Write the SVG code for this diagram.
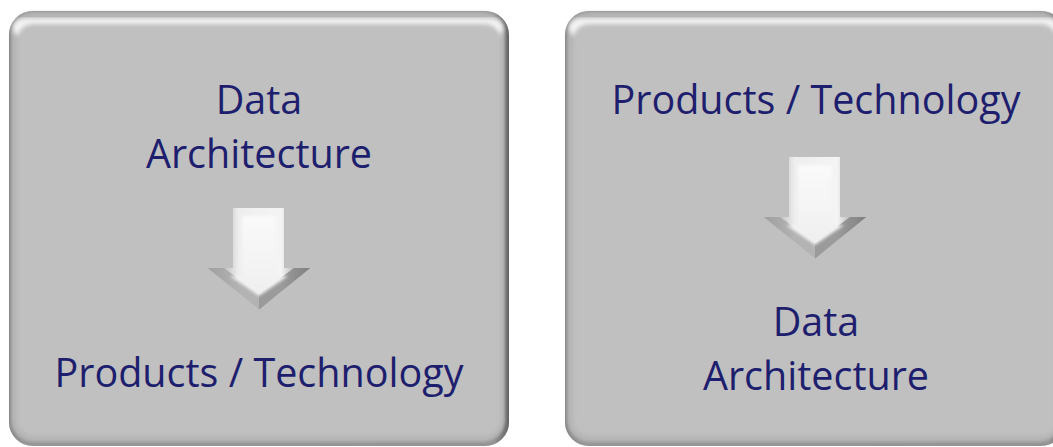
<svg xmlns="http://www.w3.org/2000/svg" xmlns:xlink="http://www.w3.org/1999/xlink" width="1053" height="447" viewBox="0 0 1053 447">
<style>
.lbl{font-family:"Open Sans","Liberation Sans",sans-serif;font-size:39.5px;fill:#1e1e6e;text-anchor:middle}
</style>
<defs>
<filter id="blur2" x="-5%" y="-5%" width="110%" height="110%"><feGaussianBlur stdDeviation="2.2"/></filter>
<filter id="blur1" x="-10%" y="-10%" width="120%" height="120%"><feGaussianBlur stdDeviation="1.4"/></filter>
<linearGradient id="edgeH" x1="0" y1="0" x2="1" y2="0">
<stop offset="0" stop-color="#9a9a9a"/><stop offset="0.03" stop-color="#bdbdbd"/><stop offset="0.97" stop-color="#b8b8b8"/><stop offset="1" stop-color="#5a5a5a"/>
</linearGradient>
<linearGradient id="arrowG" x1="0" y1="0" x2="1" y2="0">
<stop offset="0" stop-color="#8e8e8e"/><stop offset="0.3" stop-color="#eeeeee"/><stop offset="0.72" stop-color="#f4f4f4"/><stop offset="1" stop-color="#6e6e6e"/>
</linearGradient>
<linearGradient id="arrowFace" x1="0" y1="0" x2="0" y2="1">
<stop offset="0" stop-color="#fafafa"/><stop offset="1" stop-color="#efefef"/>
</linearGradient>
<g id="box">
<rect x="0" y="0" width="500" height="435" rx="24" fill="url(#edgeH)"/>
<rect x="0" y="0" width="500" height="435" rx="24" fill="#6e6e6e" opacity="0.5"/>
<rect x="2" y="1" width="494" height="430" rx="22" fill="#b4b4b4" filter="url(#blur1)"/>
<rect x="4" y="7" width="490" height="20" rx="12" fill="#f4f4f4" filter="url(#blur2)"/>
<rect x="8" y="13" width="484" height="412" rx="16" fill="#c0c0c0" filter="url(#blur2)"/>
</g>
<g id="arrow">
<polygon points="233,208 284,208 284,268 310,268 259,310 208,268 233,268" fill="url(#arrowG)"/>
<polygon points="259,310 208,268 224,268 259,294" fill="#a4a4a4" opacity="0.8"/>
<polygon points="259,310 310,268 294,268 259,294" fill="#858585" opacity="0.8"/>
<polygon points="242,216 276,216 276,276 288,276 259,296 230,276 242,276" fill="url(#arrowFace)" filter="url(#blur1)"/>
</g>
</defs>
<g id="node-left">
<use xlink:href="#box" x="9" y="11"/>
<text class="lbl" x="259" y="114">Data</text>
<text class="lbl" x="259" y="168">Architecture</text>
<text class="lbl" x="259" y="387">Products / Technology</text>
</g>
<g id="node-right">
<use xlink:href="#box" x="565" y="11"/>
<text class="lbl" x="816" y="114">Products / Technology</text>
<text class="lbl" x="816" y="336">Data</text>
<text class="lbl" x="816" y="390">Architecture</text>
</g>
<g id="connectors">
<use xlink:href="#arrow"/>
<use xlink:href="#arrow" transform="translate(556,-51)"/>
</g>
</svg>
